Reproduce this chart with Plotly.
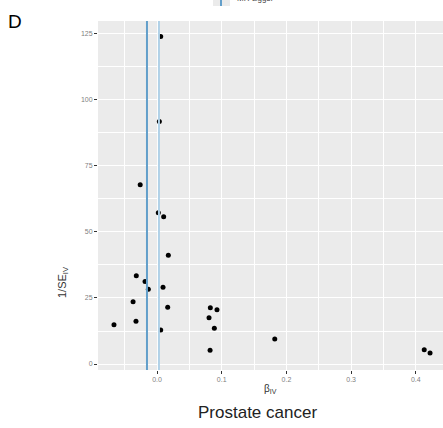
import plotly.graph_objects as go

# Data
beta_iv = [0.0057, 0.0036, -0.026, 0.002, 0.0103, 0.0175, -0.032, -0.0185, -0.0134,
           0.0093, -0.037, 0.0165, -0.0325, -0.0665, 0.0057, 0.0824, 0.0927, 0.0804,
           0.0886, 0.082, 0.182, 0.413, 0.422]
inv_se_iv = [124.0, 91.8, 67.9, 57.3, 55.8, 41.2, 33.4, 31.2, 28.3,
             29.1, 23.6, 21.5, 16.2, 14.9, 12.9, 21.3, 20.5, 17.5,
             13.5, 5.2, 9.5, 5.4, 4.2]
line_estimates = [-0.0155, 0.003]
line_names = ["IVW", "MR-Egger"]
line_colors = ["#639fca", "#b0d1e7"]
x_ticks = [0.0, 0.1, 0.2, 0.3, 0.4]
x_tick_labels = ["0.0", "0.1", "0.2", "0.3", "0.4"]
y_ticks = [0, 25, 50, 75, 100, 125]

W, H = 443, 428
L, R, T, B = 98, 0, 21, 58
pw, ph = W - L - R, H - T - B

fig = go.Figure()
fig.add_trace(go.Scatter(
    x=beta_iv, y=inv_se_iv, mode="markers",
    marker=dict(color="black", size=5), showlegend=False, hoverinfo="skip"))

shapes = []
for est, col in zip(line_estimates, line_colors):
    shapes.append(dict(type="line", xref="x", yref="paper", x0=est, x1=est, y0=0, y1=1,
                       line=dict(color=col, width=2), layer="above"))

# partially visible legend key at top
kx0, kx1 = (213 - L) / pw, (230 - L) / pw
shapes.append(dict(type="rect", xref="paper", yref="paper", x0=kx0, x1=kx1,
                   y0=(H - B - 6) / ph, y1=(H - B + 10) / ph,
                   fillcolor="#ebebeb", line=dict(width=0), layer="above"))
shapes.append(dict(type="line", xref="paper", yref="paper", x0=(221 - L) / pw, x1=(221 - L) / pw,
                   y0=(H - B - 6) / ph, y1=(H - B + 10) / ph,
                   line=dict(color=line_colors[0], width=2), layer="above"))

annotations = [
    dict(text="D", xref="paper", yref="paper", x=(15 - L) / pw, y=(H - B - 22) / ph,
         showarrow=False, font=dict(size=19, color="black", family="Liberation Sans, Arial"),
         xanchor="center", yanchor="middle"),
    dict(text="1/SE<sub>IV</sub>", xref="paper", yref="paper", x=(63 - L) / pw, y=(H - B - 282) / ph,
         textangle=-90, showarrow=False, font=dict(size=11, color="#333333", family="Liberation Sans, Arial"),
         xanchor="center", yanchor="middle"),
    dict(text="β<sub>IV</sub>", xref="paper", yref="paper", x=(270 - L) / pw, y=(H - B - 389) / ph,
         showarrow=False, font=dict(size=10, color="#333333", family="Liberation Sans, Arial"),
         xanchor="center", yanchor="middle"),
    dict(text="Prostate cancer", xref="paper", yref="paper", x=(257 - L) / pw, y=(H - B - 412) / ph,
         showarrow=False, font=dict(size=17, color="#222222", family="Liberation Sans, Arial"),
         xanchor="center", yanchor="middle"),
    dict(text=line_names[1], xref="paper", yref="paper", x=(235 - L) / pw, y=(H - B + 1) / ph,
         showarrow=False, font=dict(size=8, color="#444444", family="Liberation Sans, Arial"),
         xanchor="left", yanchor="middle"),
]

fig.update_layout(
    width=W, height=H,
    margin=dict(l=L, r=R, t=T, b=B),
    paper_bgcolor="white", plot_bgcolor="#ebebeb",
    shapes=shapes, annotations=annotations,
    showlegend=False,
    font=dict(family="Liberation Sans, Arial"),
)
fig.update_xaxes(
    range=[-0.0912, 0.442], tickvals=x_ticks, ticktext=x_tick_labels,
    showgrid=True, gridcolor="white", gridwidth=1, zeroline=False,
    minor=dict(dtick=0.05, tick0=0.05, showgrid=True, gridcolor="white", gridwidth=0.5),
    ticks="outside", ticklen=3, tickcolor="#333333", tickwidth=1,
    tickfont=dict(size=7, color="#7f7f7f"), showline=False,
)
fig.update_yaxes(
    range=[-2.27, 129.9], tickvals=y_ticks,
    showgrid=True, gridcolor="white", gridwidth=1, zeroline=False,
    minor=dict(dtick=12.5, tick0=12.5, showgrid=True, gridcolor="white", gridwidth=0.5),
    ticks="outside", ticklen=3, tickcolor="#333333", tickwidth=1,
    tickfont=dict(size=7, color="#7f7f7f"), showline=False,
)

fig.write_html("out.html", config={"displayModeBar": False},
               post_script="document.body.style.margin='0';document.body.style.overflow='hidden';")
